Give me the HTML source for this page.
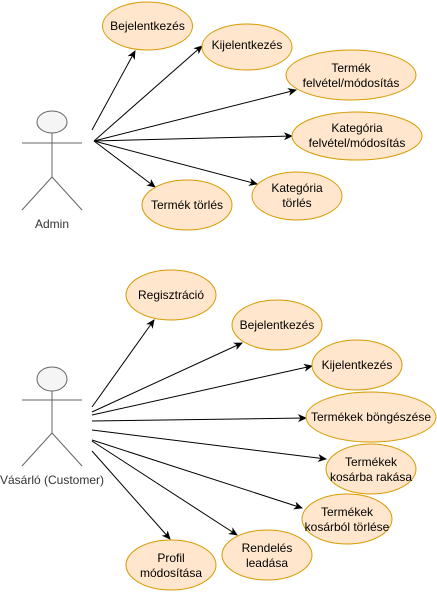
<!DOCTYPE html>
<html><head><meta charset="utf-8"><style>
html,body{margin:0;padding:0;background:#fff;}
text{font-family:"Liberation Sans",sans-serif;font-size:12px;fill:#000;}
</style></head><body>
<svg width="437" height="591" viewBox="0 0 437 591" xmlns="http://www.w3.org/2000/svg">
<defs><marker id="a" markerWidth="10" markerHeight="10" refX="8" refY="5" orient="auto" markerUnits="userSpaceOnUse"><path d="M0,1 L9,5 L0,9 L2.5,5 Z" fill="#000"/></marker></defs>
<g stroke="#666" fill="none" stroke-width="1">
<ellipse cx="52" cy="122" rx="15" ry="11" fill="#f5f5f5"/>
<line x1="22" y1="143" x2="82" y2="143"/><line x1="52" y1="133" x2="52" y2="177"/>
<line x1="52" y1="177" x2="22" y2="210"/><line x1="52" y1="177" x2="82" y2="210"/>
<ellipse cx="52" cy="379" rx="15" ry="12" fill="#f5f5f5"/>
<line x1="22" y1="400" x2="82" y2="400"/><line x1="52" y1="391" x2="52" y2="433"/>
<line x1="52" y1="433" x2="22" y2="466"/><line x1="52" y1="433" x2="82" y2="466"/>
</g>
<text x="52" y="228" text-anchor="middle" style="fill:#333">Admin</text>
<text x="52" y="484" text-anchor="middle" style="fill:#333">Vásárló (Customer)</text>
<g stroke="#000" stroke-width="1" marker-end="url(#a)">
<line x1="92" y1="130" x2="135" y2="51"/>
<line x1="94" y1="141" x2="202" y2="46"/>
<line x1="94" y1="141" x2="296" y2="90"/>
<line x1="94" y1="141" x2="292" y2="136"/>
<line x1="94" y1="141" x2="155" y2="187"/>
<line x1="94" y1="141" x2="257" y2="184"/>
<line x1="92" y1="407" x2="154" y2="320"/>
<line x1="92" y1="412" x2="242" y2="343"/>
<line x1="92" y1="415" x2="312" y2="366"/>
<line x1="92" y1="421" x2="306" y2="418"/>
<line x1="92" y1="430" x2="326" y2="459"/>
<line x1="92" y1="440" x2="302" y2="508"/>
<line x1="92" y1="441" x2="237" y2="535"/>
<line x1="92" y1="451" x2="170" y2="539"/>
</g>
<g fill="#ffe6cc" stroke="#d79b00" stroke-width="1">
<ellipse cx="147.5" cy="26" rx="45" ry="24"/>
<ellipse cx="247" cy="47" rx="45" ry="23"/>
<ellipse cx="351" cy="75" rx="65" ry="25"/>
<ellipse cx="357" cy="136" rx="65" ry="24"/>
<ellipse cx="187" cy="205" rx="45" ry="25"/>
<ellipse cx="297" cy="196" rx="45" ry="24"/>
<ellipse cx="171" cy="295" rx="45" ry="25"/>
<ellipse cx="277" cy="325" rx="45" ry="25"/>
<ellipse cx="357" cy="365" rx="45" ry="25"/>
<ellipse cx="371" cy="417" rx="65" ry="25"/>
<ellipse cx="371" cy="469" rx="45" ry="25"/>
<ellipse cx="347" cy="519" rx="45" ry="25"/>
<ellipse cx="267" cy="555" rx="45" ry="25"/>
<ellipse cx="171" cy="565" rx="45" ry="25"/>
</g>
<g text-anchor="middle">
<text x="147.5" y="30">Bejelentkezés</text>
<text x="247" y="49">Kijelentkezés</text>
<text x="351" y="72">Termék</text><text x="351" y="87">felvétel/módosítás</text>
<text x="357" y="132">Kategória</text><text x="357" y="147">felvétel/módosítás</text>
<text x="187" y="209">Termék törlés</text>
<text x="297" y="192">Kategória</text><text x="297" y="207">törlés</text>
<text x="171" y="299">Regisztráció</text>
<text x="277" y="329">Bejelentkezés</text>
<text x="357" y="369">Kijelentkezés</text>
<text x="371" y="421">Termékek böngészése</text>
<text x="371" y="466">Termékek</text><text x="371" y="481">kosárba rakása</text>
<text x="347" y="516">Termékek</text><text x="347" y="531">kosárból törlése</text>
<text x="267" y="552">Rendelés</text><text x="267" y="567">leadása</text>
<text x="171" y="562">Profil</text><text x="171" y="577">módosítása</text>
</g>
</svg>
</body></html>
